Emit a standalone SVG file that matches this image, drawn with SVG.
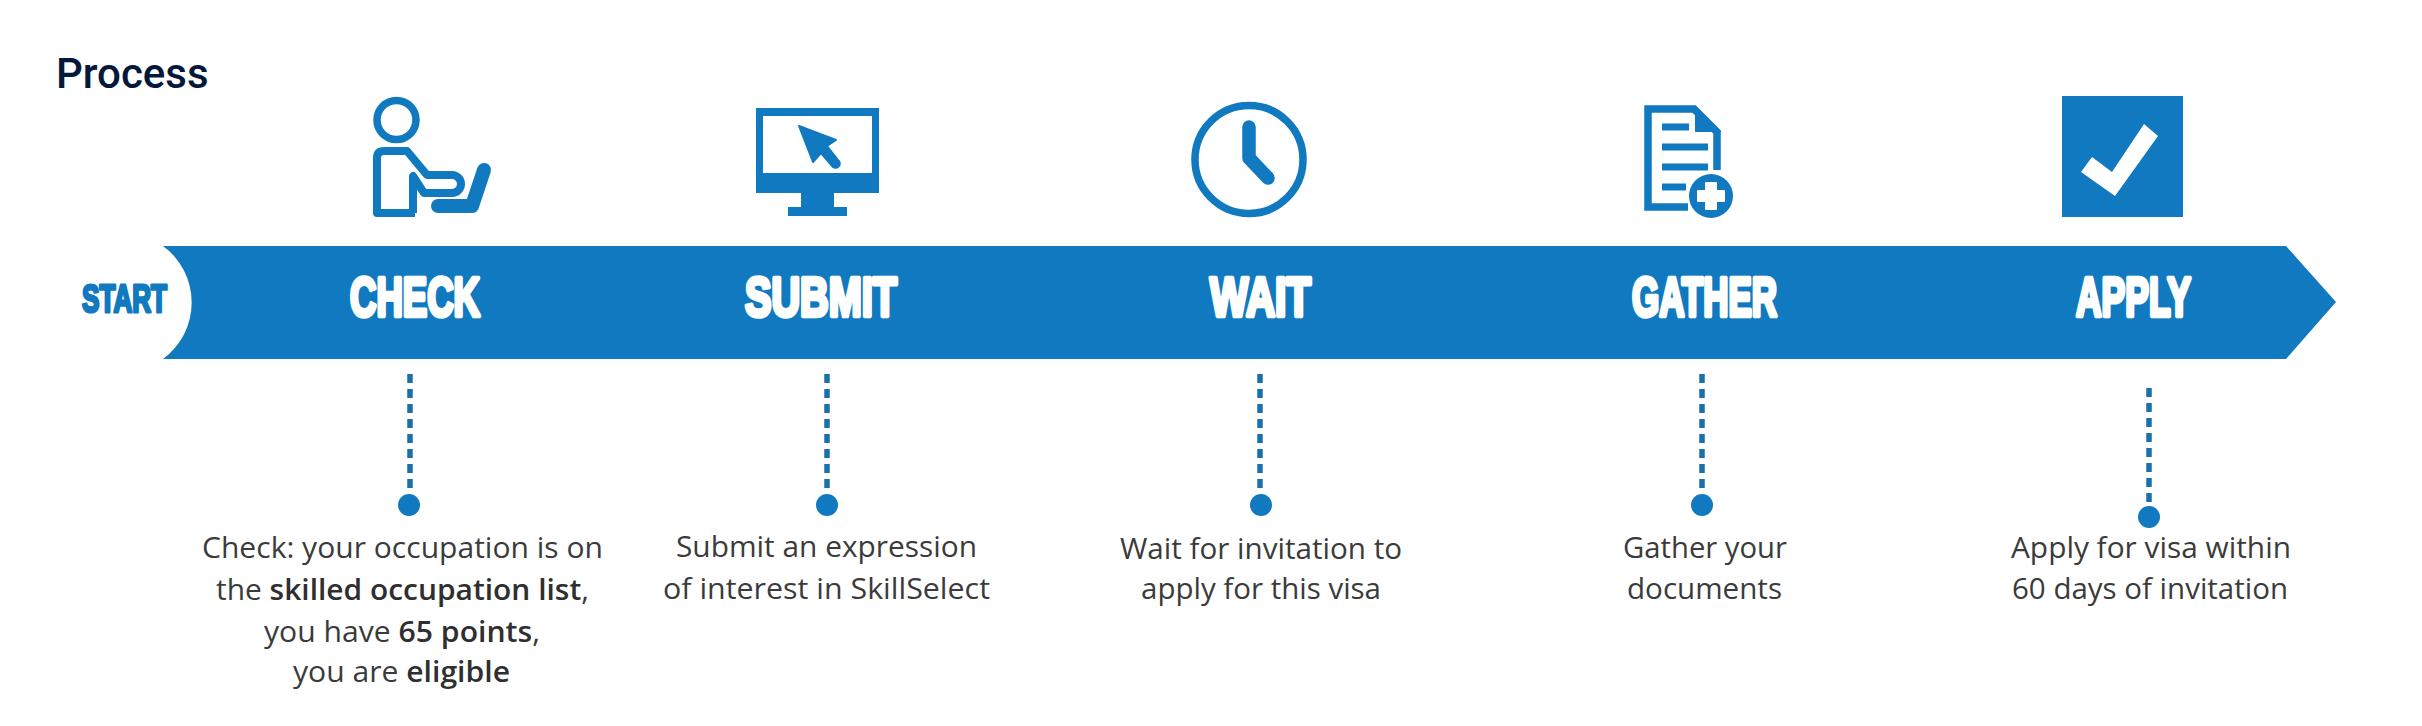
<svg xmlns="http://www.w3.org/2000/svg" width="2422" height="726" viewBox="0 0 2422 726">
<style>
.fill{fill:#1079bf}
.line{fill:none;stroke:#1079bf}
.head{font-family:"Liberation Sans",Arial,sans-serif;font-weight:700;stroke-linejoin:round}
.step{font-size:55px;fill:#fff;stroke:#fff;stroke-width:4.500px}
.desc{font-family:"Open Sans","Noto Sans",sans-serif;font-size:29px;fill:#3b3b3b}
.desc .b{font-weight:600;fill:#2f2f2f}
.dots{fill:none;stroke:#1b70ab;stroke-width:5.500;stroke-dasharray:9 6}
</style>
<rect width="2422" height="726" fill="#fff"/>
<text id="title" x="56" y="88" font-family="Roboto,sans-serif" font-weight="500" font-size="42" fill="#04183a">Process</text>
<g id="bar">
<path class="fill" d="M163 246H2286L2336 302L2286 359H163A70 70 0 0 0 163 246Z"/>
<text class="head" x="82" y="312" font-size="38" fill="#1079bf" stroke="#1079bf" stroke-width="3" textLength="85" lengthAdjust="spacingAndGlyphs">START</text>
</g>
<g id="connectors">
<path class="dots" d="M410 374V492"/>
<path class="dots" d="M827 374V492"/>
<path class="dots" d="M1260 374V492"/>
<path class="dots" d="M1702 374V492"/>
<path class="dots" d="M2149 388V506"/>
</g>
<g id="check">
<circle class="line" cx="396.500" cy="120" r="19.500" stroke-width="7.500"/>
<path class="line" stroke-width="8" stroke-linejoin="round" d="M415 213H377V158Q377 151 384 151H407L427 175H452A9 9 0 0 1 452 193H424L413 176V213"/>
<path class="line" stroke-width="14" stroke-linecap="round" stroke-linejoin="round" d="M484 170L472 206H438"/>
<text class="head step" x="350" y="316" textLength="130" lengthAdjust="spacingAndGlyphs">CHECK</text>
<circle class="fill" cx="409" cy="505" r="11"/>
<text class="desc" x="202" y="558" textLength="401" lengthAdjust="spacingAndGlyphs">Check: your occupation is on</text>
<text class="desc" x="216" y="600" textLength="373" lengthAdjust="spacingAndGlyphs">the <tspan class="b">skilled occupation list</tspan>,</text>
<text class="desc" x="264" y="642" textLength="276" lengthAdjust="spacingAndGlyphs">you have <tspan class="b">65 points</tspan>,</text>
<text class="desc" x="293" y="682" textLength="217" lengthAdjust="spacingAndGlyphs">you are <tspan class="b">eligible</tspan></text>
</g>
<g id="submit">
<path class="fill" fill-rule="evenodd" d="M756 108H879V193H834V207H847V216H788V207H801V193H756ZM763 116V173H872V116Z"/>
<path class="fill" stroke="#1079bf" stroke-width="2" stroke-linejoin="round" d="M799 126L836 140L827 146L838 160A4 4 0 0 1 833 167L821 153L813 162Z"/>
<text class="head step" x="745" y="316" textLength="152" lengthAdjust="spacingAndGlyphs">SUBMIT</text>
<circle class="fill" cx="827" cy="505" r="11"/>
<text class="desc" x="676" y="557" textLength="301" lengthAdjust="spacingAndGlyphs">Submit an expression</text>
<text class="desc" x="663" y="599" textLength="327" lengthAdjust="spacingAndGlyphs">of interest in SkillSelect</text>
</g>
<g id="wait">
<circle class="line" cx="1249" cy="159.500" r="54" stroke-width="7.500"/>
<path class="line" stroke-width="13.500" stroke-linecap="round" stroke-linejoin="round" d="M1249 127V158L1268 178"/>
<text class="head step" x="1210" y="316" textLength="101" lengthAdjust="spacingAndGlyphs">WAIT</text>
<circle class="fill" cx="1261" cy="505" r="11"/>
<text class="desc" x="1120" y="559" textLength="282" lengthAdjust="spacingAndGlyphs">Wait for invitation to</text>
<text class="desc" x="1141" y="599" textLength="240" lengthAdjust="spacingAndGlyphs">apply for this visa</text>
</g>
<g id="gather">
<path class="line" stroke-width="7.500" d="M1688 207H1648V109H1694L1717 132V170"/>
<path class="fill" d="M1695 105L1721 131V132H1695Z"/>
<path class="line" stroke-width="7" d="M1662 127H1689M1662 147H1708M1662 167H1708M1662 187H1686"/>
<circle class="fill" cx="1711" cy="196" r="22"/>
<path fill="#fff" stroke="#fff" stroke-width="2" stroke-linejoin="round" d="M1706 183H1716V191H1724V201H1716V209H1706V201H1698V191H1706Z"/>
<text class="head step" x="1632" y="316" textLength="145" lengthAdjust="spacingAndGlyphs">GATHER</text>
<circle class="fill" cx="1702" cy="505" r="11"/>
<text class="desc" x="1623" y="558" textLength="164" lengthAdjust="spacingAndGlyphs">Gather your</text>
<text class="desc" x="1627" y="599" textLength="155" lengthAdjust="spacingAndGlyphs">documents</text>
</g>
<g id="apply">
<rect class="fill" x="2062" y="96" width="121" height="121"/>
<path fill="#fff" d="M2081 172L2092 157L2112 172L2144 124L2158 136L2115 196Z"/>
<text class="head step" x="2076" y="316" textLength="115" lengthAdjust="spacingAndGlyphs">APPLY</text>
<circle class="fill" cx="2149" cy="517" r="11"/>
<text class="desc" x="2011" y="558" textLength="280" lengthAdjust="spacingAndGlyphs">Apply for visa within</text>
<text class="desc" x="2012" y="599" textLength="276" lengthAdjust="spacingAndGlyphs">60 days of invitation</text>
</g>
</svg>
